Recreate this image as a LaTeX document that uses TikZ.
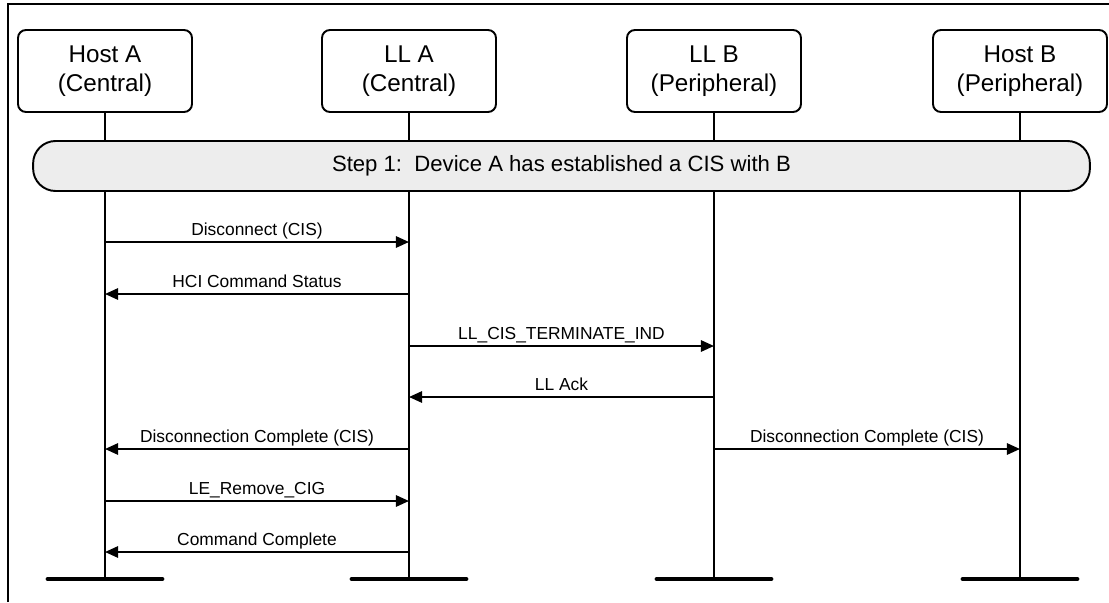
\documentclass[tikz,border=0pt]{standalone}
\usepackage{fontspec}
\setmainfont{Liberation Sans}
\usetikzlibrary{arrows.meta,positioning,calc}

\begin{document}
\begin{tikzpicture}[x=0.02cm, y=-0.02cm,
  actor/.style={rectangle, draw, line width=1.1pt, rounded corners=4.5pt, minimum width=3.48cm, minimum height=1.64cm, align=center, inner sep=0pt, font=\fontsize{13.8}{16.4}\selectfont},
  life/.style={line width=1.1pt},
  bar/.style={line width=2.8pt, line cap=round},
  phase/.style={rectangle, draw, line width=1.1pt, fill=black!7, rounded corners=0.45cm, minimum width=21.14cm, minimum height=1cm, font=\fontsize{12.6}{15}\selectfont},
  msg/.style={-{Triangle[length=7.5pt,width=6.5pt]}, line width=1.1pt},
  lbl/.style={midway, above, inner sep=3.4pt, text depth=0pt, font=\fontsize{9.9}{12}\selectfont}
]
\useasboundingbox (0,0) rectangle (1109,602);
\draw[line width=1.5pt] (8,602) -- (8,4) -- (1109,4);

\node[actor] (hA) at (105,71) {Host A\\(Central)};
\node[actor] (lA) at (409,71) {LL A\\(Central)};
\node[actor] (lB) at (714,71) {LL B\\(Peripheral)};
\node[actor] (hB) at (1020,71) {Host B\\(Peripheral)};

% lifelines and their feet
\foreach \n/\x in {hA/105, lA/409, lB/714, hB/1020} {
  \coordinate (\n end) at (\x,579);
  \draw[life] (\n) -- (\n end);
  \draw[bar] ([xshift=-1.14cm]\n end) -- ([xshift=1.14cm]\n end);
  \foreach \r/\y in {1/242, 2/294, 3/346, 4/397, 5/449, 6/501, 7/552}
    \coordinate (\n\r) at (\x,\y);
}

\node[phase] (step1) at (561.5,166) {Step 1:\ \ Device A has established a CIS with B};

\draw[msg] (hA1) -- node[lbl]{Disconnect (CIS)} (lA1);
\draw[msg] (lA2) -- node[lbl]{HCI Command Status} (hA2);
\draw[msg] (lA3) -- node[lbl]{LL\_CIS\_TERMINATE\_IND} (lB3);
\draw[msg] (lB4) -- node[lbl]{LL Ack} (lA4);
\draw[msg] (lA5) -- node[lbl]{Disconnection Complete (CIS)} (hA5);
\draw[msg] (lB5) -- node[lbl]{Disconnection Complete (CIS)} (hB5);
\draw[msg] (hA6) -- node[lbl]{LE\_Remove\_CIG} (lA6);
\draw[msg] (lA7) -- node[lbl]{Command Complete} (hA7);
\end{tikzpicture}
\end{document}
